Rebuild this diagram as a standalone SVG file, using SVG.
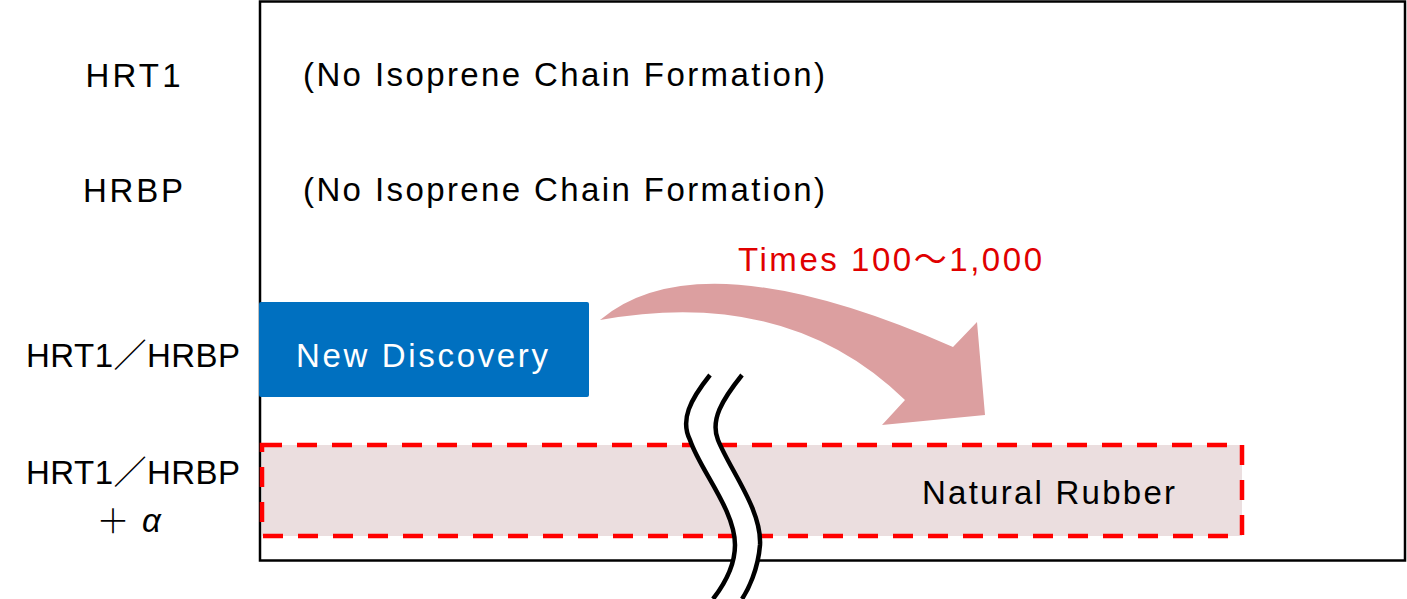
<svg xmlns="http://www.w3.org/2000/svg" width="1407" height="599" viewBox="0 0 1407 599">
<style>
  text { font-family: "Liberation Sans", "Noto Sans CJK JP", sans-serif; font-size: 33px; fill: #000; }
  .lbl { text-anchor: middle; }
  .white { fill: #fff; }
  .red { fill: #E00000; }
</style>
<rect x="0" y="0" width="1407" height="599" fill="#fff"/>
<g id="frame">
  <rect x="260" y="1.5" width="1145" height="559" fill="#fff" stroke="#000" stroke-width="2.5"/>
</g>
<g id="labels">
  <text class="lbl" x="133" y="87" textLength="95">HRT1</text>
  <text class="lbl" x="133" y="202" textLength="100">HRBP</text>
  <text class="lbl" x="133" y="367" textLength="214">HRT1／HRBP</text>
  <text class="lbl" x="133" y="484" textLength="214">HRT1／HRBP</text>
  <text x="113" y="533" font-size="40" text-anchor="middle" font-family="'Noto Sans CJK JP', sans-serif" font-weight="300">＋</text>
  <text x="142" y="532" font-size="40" font-style="italic" font-family="'Liberation Serif', serif">α</text>
</g>
<g id="hrt1-row">
  <text x="303" y="86" font-size="31" textLength="522">(No Isoprene Chain Formation)</text>
</g>
<g id="hrbp-row">
  <text x="303" y="201" font-size="31" textLength="522">(No Isoprene Chain Formation)</text>
</g>
<g id="natural-rubber">
  <rect x="262" y="445" width="980" height="91" fill="#EBDEDF" stroke="#FF0000" stroke-width="4.5" stroke-dasharray="20 15"/>
  <text x="922" y="504" font-size="31" textLength="253">Natural Rubber</text>
</g>
<g id="new-discovery">
  <rect x="259" y="302" width="330" height="95" rx="2" fill="#0070C0"/>
  <text class="white" x="296" y="367" font-size="31" textLength="252">New Discovery</text>
</g>
<g id="connectors">
  <path d="M600,320 Q700,236 953,347 L977,322 L985,415 L882,425 L905,400 Q788,286 600,320 Z" fill="#DC9FA0"/>
  <text class="red" x="738" y="271" font-size="34" textLength="304">Times 100～1,000</text>
</g>
<g id="break-mark">
  <path d="M710,375 C690,400 680,420 690,440 C700,470 735,510 735,545 C735,570 720,590 713,599 L742,599 C748,590 758,570 760,545 C762,510 730,470 718,440 C710,420 722,400 742,375 Z" fill="#fff"/>
  <path d="M710,375 C690,400 680,420 690,440 C700,470 735,510 735,545 C735,570 720,590 713,599" fill="none" stroke="#000" stroke-width="4.5"/>
  <path d="M742,375 C722,400 710,420 718,440 C730,470 762,510 760,545 C758,570 748,590 742,599" fill="none" stroke="#000" stroke-width="4.5"/>
</g>
</svg>
